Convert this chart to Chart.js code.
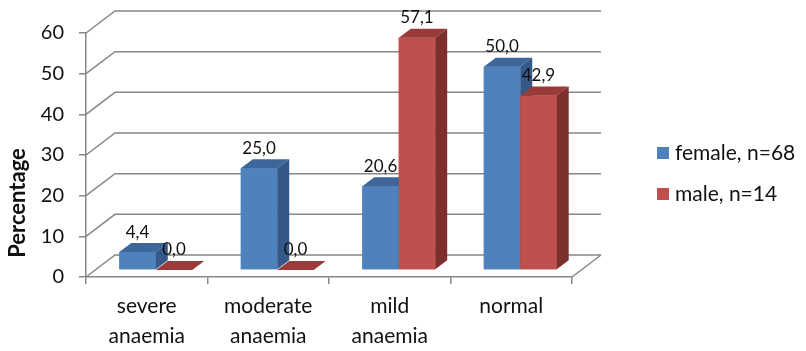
<!DOCTYPE html>
<html>
<head>
<meta charset="utf-8">
<script src="https://cdn.jsdelivr.net/npm/chart.js@4.4.1/dist/chart.umd.min.js"></script>
<style>
  html, body { margin: 0; padding: 0; background: #fff; }
  #c { display: block; }
</style>
</head>
<body>
<canvas id="c" width="806" height="351"></canvas>
<script>
// Anaemia categories by sex (percent of each group)
const categories = [['severe', 'anaemia'], ['moderate', 'anaemia'], ['mild', 'anaemia'], 'normal'];
const femaleValues = [4.4, 25.0, 20.6, 50.0];
const maleValues = [0.0, 0.0, 57.1, 42.9];
const seriesNames = ['female, n=68', 'male, n=14'];
const yTickMax = 60;
const yTickStep = 10;
const yTitle = 'Percentage';

const FONT = 'Lato, "Liberation Sans", sans-serif';
const GRID = '#878787';

// pseudo-3D geometry: floor depth, bar front plane shift, bar depth
const FLOOR = { dx: 29, dy: -22 };
const SHIFT = { dx: 9, dy: -7 };
const DEPTH = { dx: 12, dy: -9 };

const palettes = [
  { front: '#4F81BD', top: '#3D669A', side: '#345888' },
  { front: '#C0504D', top: '#9A3B39', side: '#7C2F2D' }
];

function fmt(v) { return v.toFixed(1).replace('.', ','); }

function drawBox(ctx, el, pal) {
  const p = el.getProps(['x', 'y', 'base', 'width'], true);
  const l = p.x - p.width / 2, r = p.x + p.width / 2;
  const top = Math.min(p.y, p.base), base = Math.max(p.y, p.base);
  ctx.fillStyle = pal.front;
  ctx.fillRect(l, top, r - l, base - top);
  ctx.fillStyle = pal.top;
  ctx.beginPath();
  ctx.moveTo(l, top); ctx.lineTo(r, top);
  ctx.lineTo(r + DEPTH.dx, top + DEPTH.dy); ctx.lineTo(l + DEPTH.dx, top + DEPTH.dy);
  ctx.closePath(); ctx.fill();
  ctx.fillStyle = pal.side;
  ctx.beginPath();
  ctx.moveTo(r, top); ctx.lineTo(r + DEPTH.dx, top + DEPTH.dy);
  ctx.lineTo(r + DEPTH.dx, base + DEPTH.dy); ctx.lineTo(r, base);
  ctx.closePath(); ctx.fill();
}

const box3d = {
  id: 'box3d',
  beforeDatasetsDraw(chart) {
    const { ctx, chartArea: a, scales: { y } } = chart;
    ctx.save();
    ctx.strokeStyle = GRID;
    ctx.lineWidth = 1.5;
    ctx.beginPath();
    y.ticks.forEach(t => {
      const py = y.getPixelForValue(t.value);
      ctx.moveTo(a.left, py);
      ctx.lineTo(a.left + FLOOR.dx, py + FLOOR.dy);
      ctx.lineTo(a.right + FLOOR.dx, py + FLOOR.dy);
    });
    ctx.moveTo(a.right, a.bottom);
    ctx.lineTo(a.right + FLOOR.dx, a.bottom + FLOOR.dy);
    ctx.stroke();
    ctx.restore();
    ctx.save();
    ctx.translate(SHIFT.dx, SHIFT.dy);
  },
  afterDatasetsDraw(chart) {
    const { ctx } = chart;
    const metas = chart.data.datasets.map((d, i) => chart.getDatasetMeta(i));
    const n = chart.data.labels.length;
    for (let j = 0; j < n; j++) {
      metas.forEach((m, i) => drawBox(ctx, m.data[j], palettes[i]));
    }
    ctx.restore();

    // value labels above each bar
    ctx.save();
    ctx.font = '17px ' + FONT;
    ctx.fillStyle = '#111';
    ctx.textAlign = 'center';
    ctx.textBaseline = 'middle';
    metas.forEach((m, i) => {
      m.data.forEach((el, j) => {
        const p = el.getProps(['x', 'y', 'base'], true);
        const top = Math.min(p.y, p.base);
        ctx.fillText(fmt(chart.data.datasets[i].data[j]), p.x + SHIFT.dx, top + SHIFT.dy - 20);
      });
    });
    ctx.restore();
  },
  afterDraw(chart) {
    const { ctx } = chart;
    ctx.save();
    // axis title
    ctx.font = 'bold 22px ' + FONT;
    ctx.fillStyle = '#111';
    ctx.textAlign = 'center';
    ctx.textBaseline = 'middle';
    ctx.translate(18, 203);
    ctx.rotate(-Math.PI / 2);
    ctx.fillText(yTitle, 0, 0);
    ctx.restore();

    // legend
    ctx.save();
    ctx.font = '21px ' + FONT;
    ctx.textBaseline = 'middle';
    ctx.textAlign = 'left';
    const rows = [153, 194];
    chart.data.datasets.forEach((d, i) => {
      ctx.fillStyle = palettes[i].front;
      ctx.fillRect(657, rows[i] - 6, 12, 12);
      ctx.fillStyle = '#111';
      ctx.fillText(d.label, 675, rows[i]);
    });
    ctx.restore();
  }
};

new Chart(document.getElementById('c'), {
  type: 'bar',
  data: {
    labels: categories,
    datasets: [
      { label: seriesNames[0], data: femaleValues, backgroundColor: palettes[0].front },
      { label: seriesNames[1], data: maleValues, backgroundColor: palettes[1].front }
    ]
  },
  options: {
    responsive: false,
    animation: false,
    devicePixelRatio: 1,
    layout: { padding: { top: 33, right: 234, left: 0, bottom: 0 } },
    categoryPercentage: 0.6,
    barPercentage: 1.0,
    plugins: { legend: { display: false }, tooltip: { enabled: false } },
    scales: {
      x: {
        grid: { display: true, drawOnChartArea: false, drawTicks: true, tickLength: 7, color: GRID, lineWidth: 1.5, offset: true },
        border: { display: true, color: GRID, width: 1.5 },
        ticks: { font: { family: FONT, size: 21, lineHeight: 1.4 }, color: '#111', padding: 8, maxRotation: 0 },
        afterFit: s => { s.height = 74; }
      },
      y: {
        min: 0, max: yTickMax,
        grid: { display: true, drawOnChartArea: false, drawTicks: true, tickLength: 7, color: GRID, lineWidth: 1.5 },
        border: { display: true, color: GRID, width: 1.5 },
        ticks: { stepSize: yTickStep, font: { family: FONT, size: 20 }, color: '#111', padding: 15 },
        afterFit: s => { s.width = 86; }
      }
    }
  },
  plugins: [box3d]
});
</script>
</body>
</html>
